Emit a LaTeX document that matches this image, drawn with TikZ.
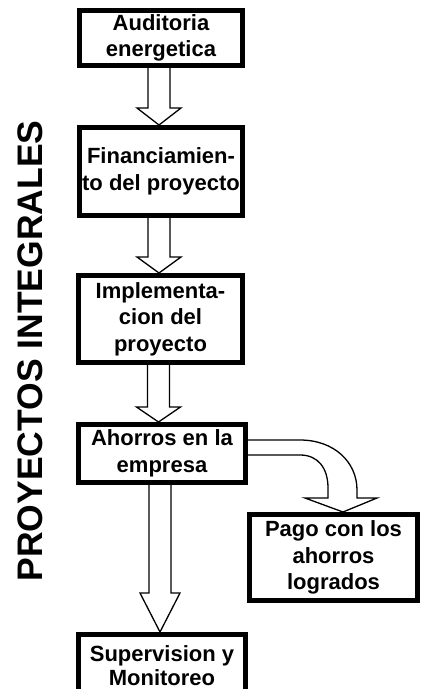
\documentclass[tikz,border=0pt]{standalone}
\usepackage{fontspec}
\setmainfont{Liberation Sans}
\usetikzlibrary{calc,backgrounds}
\tikzset{
  box/.style={draw=black, line width=5pt, fill=white, inner sep=0pt, align=center,
    font=\bfseries\fontsize{22}{26.5}\selectfont},
  blk/.style={draw=black, line width=1.3pt, fill=white, line join=miter},
}
\newcommand{\blockdown}[4]{%
  \coordinate (s) at ($(#1.south)+(-2,-4)$);
  \coordinate (e) at (#2.north -| s);
  \draw[blk] ($(s)+(-11,0)$) -- ($(e)+(-11,-#3)$) -- ($(e)+(-#4,-#3)$) -- (e)
    -- ($(e)+(#4,-#3)$) -- ($(e)+(11,-#3)$) -- ($(s)+(11,0)$) -- cycle;}
\begin{document}
\begin{tikzpicture}[x=1pt,y=-1pt]
\useasboundingbox (0,0) rectangle (424,689);
\clip (0,0) rectangle (424,689);

\node[rotate=90, inner sep=0pt, font=\bfseries\fontsize{35.5}{40}\selectfont] (title) at (30.5,351) {PROYECTOS INTEGRALES};

\node[box, minimum width=163pt, minimum height=55pt] (b1) at (161,38) {Auditoria\\energetica};
\node[box, minimum width=163pt, minimum height=88pt] (b2) at (161,171.5) {Financiamien-\\to del proyecto};
\node[box, minimum width=164pt, minimum height=87pt] (b3) at (160.5,319) {Implementa-\\cion del\\proyecto};
\node[box, minimum width=167pt, minimum height=58pt] (b4) at (162,453.5) {Ahorros en la\\empresa};
\node[box, minimum width=168pt, minimum height=86pt] (b5) at (333.5,557.5) {Pago con los\\ahorros\\logrados};
\node[box, minimum width=167pt, minimum height=63pt, font=\bfseries\fontsize{22}{24}\selectfont] (b6) at (162,666) {Supervision y\\Monitoreo};

\begin{pgfonlayer}{background}
\blockdown{b1}{b2}{17}{22}
\blockdown{b2}{b3}{16}{22}
\blockdown{b3}{b4}{15}{22}
\blockdown{b4}{b6}{39}{20}
\coordinate (cs) at ($(b4.east)+(-4,0)$);
\coordinate (ct) at ($(b5.north)+(9.5,0)$);
\draw[blk] ($(cs)+(0,-13.5)$) -- ($(cs)+(56,-13.5)$)
  .. controls ($(cs)+(90,-13.5)$) and ($(ct)+(14,-50)$) .. ($(ct)+(14,-22)$)
  -- ($(ct)+(14,-14)$) -- ($(ct)+(34,-14)$) -- (ct) -- ($(ct)+(-38,-14)$)
  -- ($(ct)+(-15,-14)$) -- ($(ct)+(-15,-24)$)
  .. controls ($(ct)+(-15,-44)$) and ($(cs)+(74,1.5)$) .. ($(cs)+(56,1.5)$)
  -- ($(cs)+(0,1.5)$) -- cycle;
\end{pgfonlayer}
\end{tikzpicture}
\end{document}
